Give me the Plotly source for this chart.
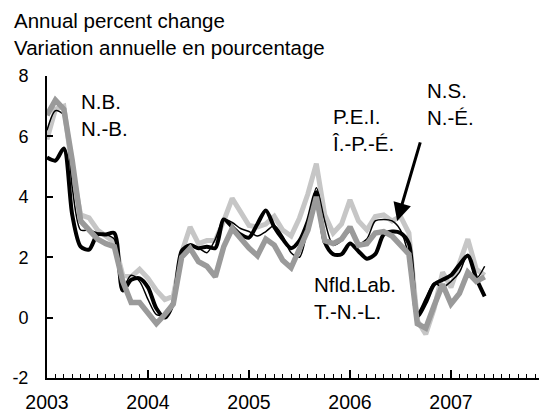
import plotly.graph_objects as go

# Monthly observations, January 2003 to May 2007
start_year = 2003
n_months = 53
months = [start_year + i / 12 for i in range(n_months)]

# Annual percent change in the consumer price index, by province
nb = [6.7, 7.2, 6.9, 5.2, 3.2, 2.9, 2.6, 2.45, 2.35, 1.2,
      0.5, 0.5, 0.15, -0.2, 0.1, 0.45, 2.0, 2.3, 1.85, 1.7,
      1.35, 2.35, 2.95, 2.6, 2.3, 2.05, 2.6, 2.4, 1.9, 1.65,
      2.3, 2.9, 4.0, 2.55, 2.45, 2.6, 3.0, 2.4, 2.45, 2.8,
      2.85, 2.7, 2.4, 2.1, -0.2, -0.35, 0.4, 1.1, 0.45, 0.8,
      1.5, 1.2, 1.35]
pei = [5.9, 6.9, 7.0, 4.9, 3.4, 3.3, 2.9, 2.7, 2.5, 1.4,
       1.35, 1.6, 1.3, 0.9, 0.6, 0.7, 2.15, 3.0, 2.45, 2.55,
       2.55, 3.2, 3.95, 3.5, 3.05, 3.0, 3.1, 3.35, 2.9, 2.7,
       3.3, 4.1, 5.1, 3.4, 2.8, 3.1, 3.9, 3.2, 2.9, 3.35,
       3.4, 3.2, 3.35, 2.8, -0.1, -0.55, 0.3, 1.5, 1.0, 1.8,
       2.6, 1.6, 1.4]
nfld = [5.3, 5.2, 5.6, 3.4, 2.35, 2.25, 2.75, 2.75, 2.8, 0.9,
        1.25, 1.3, 1.0, 0.3, 0.0, 0.5, 2.2, 2.4, 2.3, 2.35,
        2.3, 3.25, 3.0, 2.75, 2.65, 3.1, 3.55, 3.0, 2.6, 2.3,
        2.55, 3.2, 4.15, 2.5, 2.1, 2.1, 2.45, 2.2, 1.95, 2.1,
        2.75, 2.85, 2.8, 2.45, 0.05, 0.5, 1.1, 1.25, 1.4, 1.75,
        2.05, 1.3, 0.7]
ns = [6.2, 6.85, 6.7, 4.3, 2.9, 2.9, 2.8, 2.75, 2.6, 1.0,
      1.4, 1.2, 0.6, 0.1, 0.1, 0.6, 2.2, 2.35, 2.3, 2.15,
      2.6, 3.25, 3.15, 2.95, 2.85, 2.7, 2.85, 3.05, 2.7, 2.15,
      2.0, 3.0, 4.3, 3.2, 2.4, 2.55, 2.85, 2.45, 2.6, 3.2,
      3.25, 3.2, 2.9, 2.0, 0.15, 0.65, 1.15, 1.0, 1.2, 1.5,
      2.1, 1.3, 1.7]

y_ticks = [-2, 0, 2, 4, 6, 8]
year_ticks = [2003, 2004, 2005, 2006, 2007]

FONT = "Liberation Sans, Arial, sans-serif"
W, H = 540, 416
L, R, T, B = 47, 1, 76, 38

fig = go.Figure()
fig.add_trace(go.Scatter(x=months, y=pei, name="P.E.I.", mode="lines",
                         line=dict(color="#c6c6c6", width=5)))
fig.add_trace(go.Scatter(x=months, y=nfld, name="Nfld.Lab.", mode="lines",
                         line=dict(color="#000000", width=4, shape="spline", smoothing=0.8)))
fig.add_trace(go.Scatter(x=months, y=ns, name="N.S.", mode="lines",
                         line=dict(color="#000000", width=1.5, shape="spline", smoothing=0.8)))
fig.add_trace(go.Scatter(x=months, y=nb, name="N.B.", mode="lines",
                         line=dict(color="#9a9a9a", width=5.5)))


def px_to_paper(px, py):
    return (px - L) / (W - L - R), 1 - (py - T) / (H - T - B)


annotations = []
tx, ty = px_to_paper(12, 7)
annotations.append(dict(text="Annual percent change<br>Variation annuelle en pourcentage",
                        xref="paper", yref="paper", x=tx, y=ty, xanchor="left", yanchor="top",
                        align="left", showarrow=False, font=dict(size=20.5, color="#000")))

labels = [("N.B.<br>N.-B.", 79, 88), ("P.E.I.<br>Î.-P.-É.", 330, 103),
          ("N.S.<br>N.-É.", 425, 77), ("Nfld.Lab.<br>T.-N.-L.", 312, 271)]
for text, px, py in labels:
    ax_, ay_ = px_to_paper(px, py)
    annotations.append(dict(text=text, xref="paper", yref="paper", x=ax_, y=ay_,
                            xanchor="left", yanchor="top", align="left", showarrow=False,
                            font=dict(size=20.5, color="#000")))

# Arrow pointing at the N.S. series in mid-2006
annotations.append(dict(x=2003 + 41.6 / 12, y=3.2, xref="x", yref="y",
                        ax=2003 + 44.4 / 12, ay=5.85, axref="x", ayref="y",
                        text="", showarrow=True, arrowhead=2, arrowsize=1.2,
                        arrowwidth=3, arrowcolor="#000"))

fig.update_layout(
    width=W, height=H, margin=dict(l=L, r=R, t=T, b=B),
    paper_bgcolor="white", plot_bgcolor="white", showlegend=False,
    font=dict(family=FONT, color="#000"),
    annotations=annotations,
)
fig.update_xaxes(range=[2003, 2003 + (W - L - R) / 101], showgrid=False, zeroline=False,
                 showline=True, linecolor="#000", linewidth=2, automargin=False,
                 tickvals=year_ticks, ticktext=[str(y) for y in year_ticks],
                 ticks="inside", ticklen=8, tickwidth=1.5, tickcolor="#000",
                 tickfont=dict(size=19.5), ticklabelstandoff=6,
                 minor=dict(ticks="inside", ticklen=4, tickwidth=1, tickcolor="#000",
                            tick0=2003, dtick=1 / 12))
fig.update_yaxes(range=[-2, 8], showgrid=False, zeroline=False,
                 showline=True, linecolor="#000", linewidth=2, automargin=False,
                 tickvals=y_ticks, ticktext=[str(v) for v in y_ticks],
                 ticks="inside", ticklen=6, tickwidth=1.5, tickcolor="#000",
                 tickfont=dict(size=18), ticklabelstandoff=13)

fig.write_html("out.html")
